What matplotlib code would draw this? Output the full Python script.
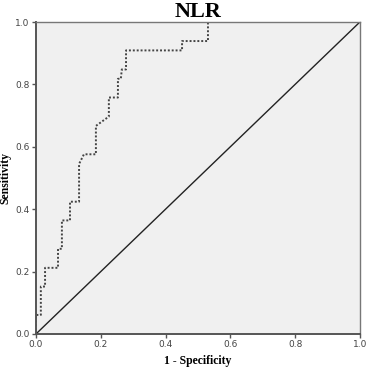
import matplotlib
matplotlib.use("Agg")
import matplotlib.pyplot as plt
import numpy as np

# ROC curve points (1 - specificity, sensitivity)
fpr = [0.0, 0.0, 0.015, 0.015, 0.028, 0.028, 0.068, 0.068, 0.080, 0.080,
       0.105, 0.105, 0.133, 0.133, 0.148, 0.185, 0.185, 0.225, 0.225,
       0.253, 0.253, 0.262, 0.265, 0.278, 0.278, 0.451, 0.451, 0.531,
       0.531, 1.0]
tpr = [0.0, 0.061, 0.061, 0.152, 0.152, 0.212, 0.212, 0.273, 0.273, 0.364,
       0.364, 0.424, 0.424, 0.545, 0.576, 0.576, 0.667, 0.697, 0.758,
       0.758, 0.818, 0.818, 0.848, 0.848, 0.909, 0.909, 0.939, 0.939,
       1.0, 1.0]
ref_line = [0.0, 1.0]
ticks = [0.0, 0.2, 0.4, 0.6, 0.8, 1.0]
tick_labels = ["0.0", "0.2", "0.4", "0.6", "0.8", "1.0"]

fig = plt.figure(figsize=(3.71, 3.67), dpi=100)
ax = fig.add_axes([0.097, 0.090, 0.873, 0.850])
ax.set_facecolor("#f0f0f0")

ax.plot(fpr, tpr, color="#444444", linestyle=(0, (1.0, 1.0)), linewidth=1.4)
ax.plot(ref_line, ref_line, color="#222222", linewidth=1.0)

ax.set_xlim(0, 1)
ax.set_ylim(0, 1)
ax.set_xticks(ticks)
ax.set_xticklabels(tick_labels)
ax.set_yticks(ticks)
ax.set_yticklabels(tick_labels)
ax.tick_params(axis="both", direction="out", length=3, width=1,
               color="#555555", labelsize=6.5, labelcolor="#444444", pad=1.5)

for side in ["left", "bottom"]:
    ax.spines[side].set_color("#555555")
    ax.spines[side].set_linewidth(1.4)
for side in ["top", "right"]:
    ax.spines[side].set_color("#777777")
    ax.spines[side].set_linewidth(1.0)

ax.set_title("NLR", fontsize=16, fontweight="bold",
             family="Liberation Serif", pad=2)
ax.set_xlabel("1 - Specificity", fontsize=8.5, fontweight="bold",
              family="Liberation Serif", labelpad=4)
ax.set_ylabel("Sensitivity", fontsize=8.5, fontweight="bold",
              family="Liberation Serif", labelpad=3)

fig.savefig("out.png", dpi=100)
